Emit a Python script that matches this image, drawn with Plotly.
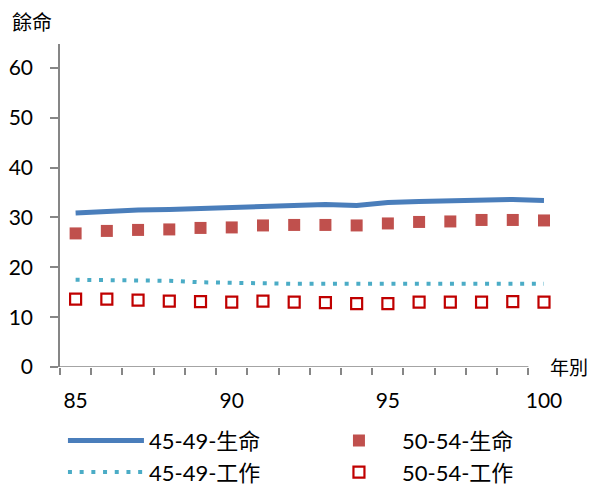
import plotly.graph_objects as go

years = list(range(85, 101))
life_45_49 = [30.9, 31.3, 31.5, 31.6, 31.8, 32.0, 32.3, 32.5, 32.6, 32.4, 33.0, 33.2, 33.4, 33.6, 33.6, 33.4]
life_50_54 = [26.8, 27.3, 27.5, 27.6, 27.9, 28.0, 28.4, 28.5, 28.5, 28.4, 28.8, 29.1, 29.2, 29.5, 29.5, 29.4]
work_45_49 = [17.5, 17.5, 17.4, 17.3, 17.0, 16.8, 16.8, 16.7, 16.7, 16.5, 16.6, 16.6, 16.6, 16.6, 16.7, 16.7]
work_50_54 = [13.6, 13.6, 13.4, 13.2, 13.1, 13.0, 13.2, 13.0, 12.9, 12.7, 12.7, 13.0, 13.0, 13.0, 13.1, 13.0]

series_names = ["45-49-生命", "50-54-生命", "45-49-工作", "50-54-工作"]
x_tick_vals = [85, 90, 95, 100]
y_tick_vals = [0, 10, 20, 30, 40, 50, 60]

FONT = "Lato, 'Noto Sans CJK TC', sans-serif"
AXIS = "#868686"

fig = go.Figure()
fig.add_trace(go.Scatter(x=years, y=life_45_49, mode="lines", name=series_names[0],
                         line=dict(color="#4A7EBB", width=5)))
fig.add_trace(go.Scatter(x=years, y=life_50_54, mode="markers", name=series_names[1],
                         marker=dict(symbol="square", size=12, color="#C0504D",
                                     line=dict(width=0)), cliponaxis=False))
fig.add_trace(go.Scatter(x=years, y=work_45_49, mode="lines", name=series_names[2],
                         line=dict(color="#4BACC6", width=4, dash="4px,7.7px")))
fig.add_trace(go.Scatter(x=years, y=work_50_54, mode="markers", name=series_names[3],
                         marker=dict(symbol="square-open", size=11, color="#C00000",
                                     line=dict(width=2.2, color="#C00000")), cliponaxis=False))

fig.update_layout(
    width=594, height=486,
    margin=dict(l=60, r=50.4, t=44, b=119, autoexpand=False),
    paper_bgcolor="white", plot_bgcolor="white",
    font=dict(family=FONT, color="black", size=21),
    showlegend=True,
    legend=dict(orientation="h", x=-0.0001, xanchor="left", y=-0.163, yanchor="top",
                entrywidth=159, entrywidthmode="pixels", itemwidth=76, indentation=3,
                font=dict(size=22, family=FONT), bgcolor="rgba(0,0,0,0)",
                tracegroupgap=0),
    xaxis=dict(range=[84.5, 100], tickmode="array", tickvals=x_tick_vals,
               ticktext=[str(v) for v in x_tick_vals], ticks="", showline=False,
               showgrid=False, zeroline=False, ticklabelstandoff=19,
               tickfont=dict(size=21),
               minor=dict(tick0=84.5, dtick=1, ticks="outside", ticklen=7,
                          tickcolor=AXIS, tickwidth=1.5, showgrid=False)),
    yaxis=dict(range=[0, 64.8], tickmode="array", tickvals=y_tick_vals,
               ticks="outside", ticklen=8, tickcolor=AXIS, tickwidth=1.5,
               showline=True, linecolor=AXIS, linewidth=1.5,
               showgrid=False, zeroline=False, ticklabelstandoff=13,
               tickfont=dict(size=21)),
)

fig.add_shape(type="line", xref="x", yref="y", x0=84.5, x1=99.5, y0=0, y1=0,
              line=dict(color=AXIS, width=1.5), layer="above")

fig.add_annotation(text="餘命", xref="paper", yref="paper", x=-0.1035, y=1.0,
                   xanchor="left", yanchor="bottom", yshift=8, showarrow=False,
                   font=dict(size=20, family=FONT))
fig.add_annotation(text="年別", xref="paper", yref="y", x=1.096, y=0,
                   xanchor="right", yanchor="middle", showarrow=False,
                   font=dict(size=19, family=FONT))

fig.write_html("out.html", config={"displayModeBar": False},
               post_script="document.body.style.margin='0';")
